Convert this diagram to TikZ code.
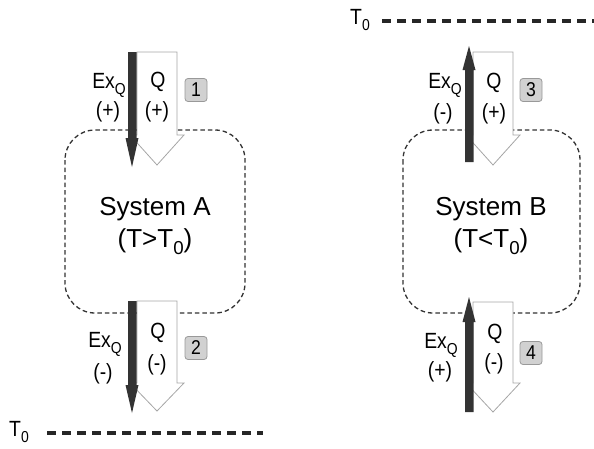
\documentclass[tikz,border=0pt]{standalone}
\usepackage{fontspec}
\usepackage{graphicx}
\setmainfont{Liberation Sans}
\newfontfamily\narrowsans{Liberation Sans}[FakeStretch=0.88]
% lowered, smaller subscript used in labels
\newcommand\lowsub[1]{\raisebox{-0.3em}{\scalebox{0.72}{#1}}}
\begin{document}
\begin{tikzpicture}[x=1pt,y=-1pt,
  sysbox/.style={draw=black!80, line width=1.3pt, dash pattern=on 4.5pt off 3pt,
                 rounded corners=30pt, inner sep=0pt},
  heatarrow/.style={draw=black!35, fill=white, line width=0.8pt, line join=miter},
  exarrow/.style={fill=black!80, draw=none},
  numbox/.style={draw=black!40, fill=black!18, rounded corners=3pt, line width=0.8pt,
                 minimum width=22pt, minimum height=23pt, inner sep=0pt,
                 font=\narrowsans\fontsize{20}{20}\selectfont, text=black},
  lbl/.style={font=\narrowsans\fontsize{22}{22}\selectfont, text=black, inner sep=0pt},
  systext/.style={font=\fontsize{26}{26}\selectfont, text=black, inner sep=0pt},
  refline/.style={line width=3.2pt, dash pattern=on 9pt off 6pt, draw=black!85}]
\useasboundingbox (0,0) rectangle (594,448);

% ---------- system boundaries ----------
\draw[sysbox] (65,130) rectangle (245,313);
\draw[sysbox] (403,130) rectangle (580,313);

\node[systext, anchor=base] (nameA) at (155,215) {System A};
\node[systext, anchor=base] (condA) at (155,247) {(T>T\lowsub{0})};
\node[systext, anchor=base] (nameB) at (491,215) {System B};
\node[systext, anchor=base] (condB) at (491,247) {(T<T\lowsub{0})};

% ---------- heat flows (hollow) and exergy flows (dark) ----------
% case 1: heat in, exergy in
\draw[heatarrow] (137,52) -- (177,52) -- (177,135) -- (184,135) -- (157,165)
  -- (130,135) -- (137,135) -- cycle;
\fill[exarrow] (128,52) -- (136.5,52) -- (136.5,138) -- (138.5,138) -- (132,167)
  -- (125.5,138) -- (128,138) -- cycle;
% case 2: heat out, exergy out
\draw[heatarrow] (137,301) -- (177,301) -- (177,383) -- (184,383) -- (157,411)
  -- (130,383) -- (137,383) -- cycle;
\fill[exarrow] (128,301) -- (136.5,301) -- (136.5,385) -- (138.5,385) -- (132,413)
  -- (125.5,385) -- (128,385) -- cycle;
% case 3: heat in, exergy out
\draw[heatarrow] (473,52) -- (513,52) -- (513,135) -- (520,135) -- (493,165)
  -- (466,135) -- (473,135) -- cycle;
\fill[exarrow] (465,162) -- (473.5,162) -- (473.5,70) -- (475.5,70) -- (469,46)
  -- (462.5,70) -- (465,70) -- cycle;
% case 4: heat out, exergy in
\draw[heatarrow] (473,302) -- (513,302) -- (513,383) -- (520,383) -- (493,412)
  -- (466,383) -- (473,383) -- cycle;
\fill[exarrow] (465,412) -- (473.5,412) -- (473.5,322) -- (475.5,322) -- (469,297)
  -- (462.5,322) -- (465,322) -- cycle;

% ---------- flow labels ----------
\node[lbl, anchor=base] (ex1) at (109,88) {Ex\lowsub{Q}};
\node[lbl] (ex1s) at (108,112) {(+)};
\node[lbl, anchor=base] (q1) at (158,87) {Q};
\node[lbl] (q1s) at (157,112) {(+)};

\node[lbl, anchor=base] (ex2) at (105,347) {Ex\lowsub{Q}};
\node[lbl] (ex2s) at (103,374) {(-)};
\node[lbl, anchor=base] (q2) at (158,338) {Q};
\node[lbl] (q2s) at (157,365) {(-)};

\node[lbl, anchor=base] (ex3) at (445,88) {Ex\lowsub{Q}};
\node[lbl] (ex3s) at (443,114) {(-)};
\node[lbl, anchor=base] (q3) at (494,88) {Q};
\node[lbl] (q3s) at (494,114) {(+)};

\node[lbl, anchor=base] (ex4) at (441,348) {Ex\lowsub{Q}};
\node[lbl] (ex4s) at (440,372) {(+)};
\node[lbl, anchor=base] (q4) at (495,339) {Q};
\node[lbl] (q4s) at (494,364) {(-)};

% ---------- case numbers ----------
\node[numbox] (n1) at (196,90) {1};
\node[numbox] (n2) at (196,348) {2};
\node[numbox] (n3) at (531,90) {3};
\node[numbox] (n4) at (531,353) {4};

% ---------- dead-state reference lines ----------
\node[lbl] (t0a) at (19,432) {T\lowsub{0}};
\coordinate (t0aS) at (47,433);
\coordinate (t0aE) at (263,433);
\draw[refline] (t0aS) -- (t0aE);

\node[lbl] (t0b) at (360,20) {T\lowsub{0}};
\coordinate (t0bS) at (382,21);
\coordinate (t0bE) at (594,21);
\draw[refline] (t0bS) -- (t0bE);
\end{tikzpicture}
\end{document}
